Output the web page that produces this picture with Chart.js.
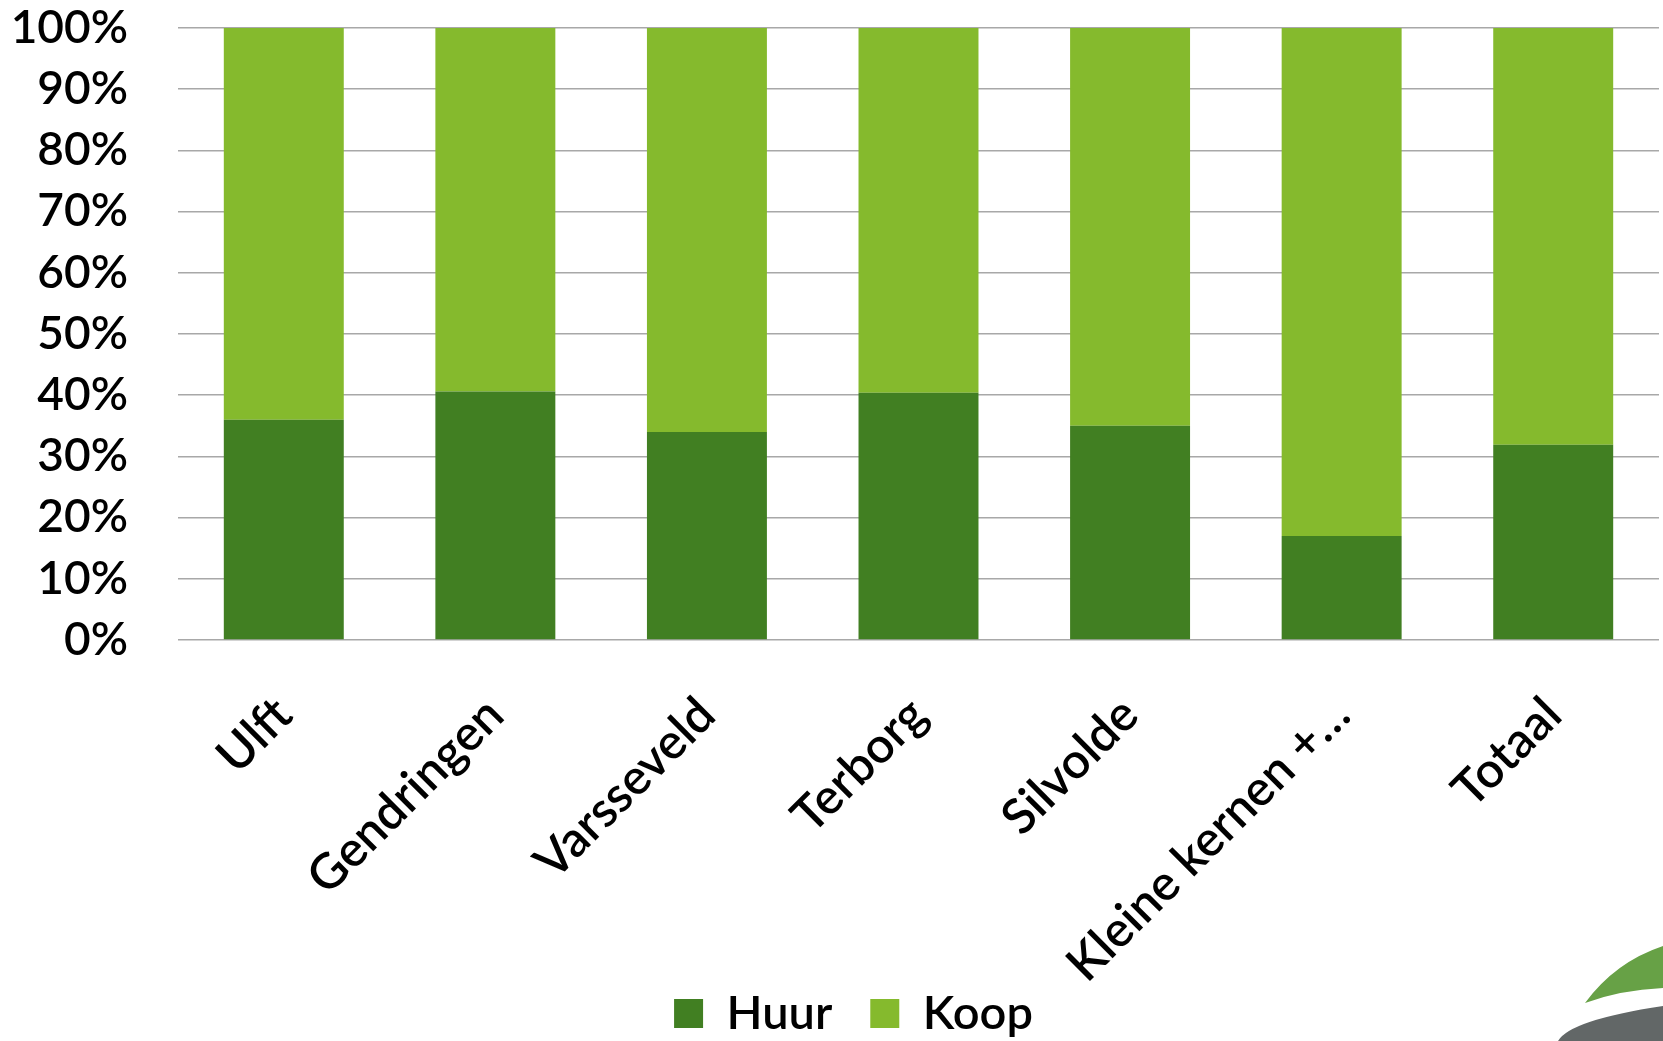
<!DOCTYPE html>
<html>
<head>
<meta charset="utf-8">
<script src="https://cdn.jsdelivr.net/npm/chart.js@4"></script>
<style>
  html, body { margin: 0; padding: 0; background: #ffffff; }
  #wrap { width: 1663px; height: 1041px; position: relative; }
</style>
</head>
<body>
<div id="wrap"><canvas id="c" width="1663" height="1041"></canvas></div>
<script>
const categories = ["Ulft", "Gendringen", "Varsseveld", "Terborg", "Silvolde", "Kleine kernen +…", "Totaal"];
const huur = [36.0, 40.6, 34.0, 40.4, 35.0, 17.0, 31.9];
const koop = [64.0, 59.4, 66.0, 59.6, 65.0, 83.0, 68.1];
const yTicks = [0, 10, 20, 30, 40, 50, 60, 70, 80, 90, 100];

const FONT = "Lato, 'Open Sans', sans-serif";

const logoPlugin = {
  id: 'logo',
  afterLayout(chart) {
    const lg = chart.legend;
    if (lg) {
      lg.left += 24; lg.right += 24;
      lg.top += 6; lg.bottom += 6;
    }
  },
  afterDraw(chart) {
    const ctx = chart.ctx;
    ctx.save();
    ctx.fillStyle = '#67a146';
    ctx.beginPath();
    ctx.moveTo(1585, 1003);
    ctx.quadraticCurveTo(1615, 962, 1663, 946);
    ctx.lineTo(1663, 988);
    ctx.quadraticCurveTo(1620, 990, 1585, 1003);
    ctx.closePath();
    ctx.fill();
    ctx.fillStyle = '#626767';
    ctx.beginPath();
    ctx.moveTo(1558, 1041);
    ctx.quadraticCurveTo(1570, 1020, 1663, 1006);
    ctx.lineTo(1663, 1041);
    ctx.closePath();
    ctx.fill();
    ctx.restore();
  }
};

new Chart(document.getElementById('c'), {
  type: 'bar',
  data: {
    labels: categories,
    datasets: [
      { label: 'Huur', data: huur, backgroundColor: '#417f22', borderWidth: 0 },
      { label: 'Koop', data: koop, backgroundColor: '#85ba2d', borderWidth: 0 }
    ]
  },
  options: {
    responsive: false,
    animation: false,
    devicePixelRatio: 1,
    layout: { padding: { top: 28, right: 4, left: 0, bottom: 0 } },
    datasets: { bar: { barPercentage: 0.567, categoryPercentage: 1.0 } },
    plugins: {
      tooltip: { enabled: false },
      legend: {
        position: 'bottom',
        labels: {
          font: { family: FONT, size: 47, weight: '600' },
          color: '#000000',
          boxWidth: 29,
          boxHeight: 29,
          padding: 38
        }
      }
    },
    scales: {
      x: {
        stacked: true,
        afterFit(scale) {
          scale.height = 306; scale.paddingLeft = 0; scale.paddingRight = 0;
          scale._computeLabelArea = function () { return undefined; };
        },
        grid: { display: false, drawTicks: false },
        border: { display: false },
        ticks: {
          font: { family: FONT, size: 49, weight: '600' },
          color: '#000000',
          maxRotation: 45,
          minRotation: 45,
          padding: 46,
          autoSkip: false
        }
      },
      y: {
        stacked: true,
        min: 0,
        max: 100,
        afterFit(scale) { scale.width = 178; scale.paddingTop = 0; scale.paddingBottom = 0; },
        afterBuildTicks(scale) { scale.ticks = yTicks.map(v => ({ value: v })); },
        grid: { color: '#a8a8a8', lineWidth: 1.5, drawTicks: false },
        border: { display: false },
        ticks: {
          font: { family: FONT, size: 46, weight: '600' },
          color: '#000000',
          padding: 50,
          autoSkip: false,
          stepSize: 10,
          callback: v => v + '%'
        }
      }
    }
  },
  plugins: [logoPlugin]
});
</script>
</body>
</html>
